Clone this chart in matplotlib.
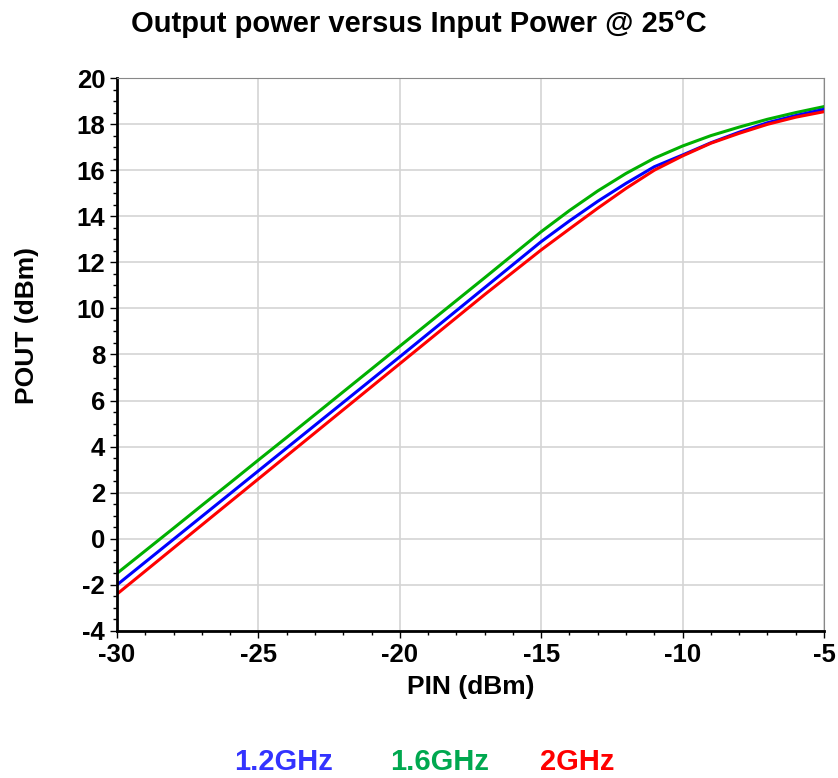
import matplotlib.pyplot as plt
from matplotlib.ticker import MultipleLocator

plt.rcParams['font.family'] = ['Liberation Sans', 'DejaVu Sans']
plt.rcParams['font.weight'] = 'bold'
plt.rcParams['axes.unicode_minus'] = False

pin = [-30, -29, -28, -27, -26, -25, -24, -23, -22, -21, -20, -19, -18,
       -17, -16, -15, -14, -13, -12, -11, -10, -9, -8, -7, -6, -5]

# POUT for each frequency, dBm
pout_12 = [-2.0, -1.01, -0.02, 0.97, 1.96, 2.95, 3.94, 4.93, 5.92, 6.91, 7.9,
           8.9, 9.9, 10.9, 11.9, 12.9, 13.8, 14.65, 15.43, 16.15, 16.66,
           17.19, 17.65, 18.06, 18.37, 18.64]
pout_16 = [-1.5, -0.52, 0.46, 1.45, 2.43, 3.42, 4.4, 5.39, 6.38, 7.37, 8.36,
           9.35, 10.34, 11.33, 12.33, 13.33, 14.25, 15.1, 15.86, 16.52, 17.05,
           17.5, 17.87, 18.21, 18.5, 18.76]
pout_20 = [-2.4, -1.4, -0.4, 0.6, 1.6, 2.6, 3.6, 4.6, 5.6, 6.6, 7.6,
           8.6, 9.6, 10.6, 11.57, 12.54, 13.45, 14.35, 15.21, 16.0, 16.62,
           17.17, 17.6, 17.99, 18.3, 18.54]

labels = ['1.2GHz', '1.6GHz', '2GHz']
line_colors = ['#0000ff', '#00b000', '#ff0000']
text_colors = ['#3333ff', '#00a84f', '#ff0000']

fig = plt.figure(figsize=(8.38, 7.78), dpi=100)
ax = fig.add_axes([0.1396, 0.189, 0.8437, 0.7107])

ax.plot(pin, pout_16, color=line_colors[1], lw=2.2)
ax.plot(pin, pout_12, color=line_colors[0], lw=2.2)
ax.plot(pin, pout_20, color=line_colors[2], lw=2.2)

ax.set_xlim(-30, -5)
ax.set_ylim(-4, 20)
ax.xaxis.set_major_locator(MultipleLocator(5))
ax.xaxis.set_minor_locator(MultipleLocator(1))
ax.yaxis.set_major_locator(MultipleLocator(2))
ax.yaxis.set_minor_locator(MultipleLocator(0.5))
ax.grid(True, which='major', color='#d4d4d4', lw=1.2)
ax.set_axisbelow(True)

ax.spines['left'].set_linewidth(2)
ax.spines['bottom'].set_linewidth(2)
ax.spines['top'].set_color('#888888')
ax.spines['right'].set_color('#888888')
ax.tick_params(which='major', labelsize=18.5, length=5, width=1)
ax.tick_params(which='minor', length=3, width=1)
ax.tick_params(top=False, right=False, which='both')

ax.set_xlabel('PIN (dBm)', fontsize=19, fontweight='bold', labelpad=6)
ax.set_ylabel('POUT (dBm)', fontsize=19, fontweight='bold')
ax.yaxis.set_label_coords(-0.11, 0.553)
fig.text(0.5, 0.969, 'Output power versus Input Power @ 25°C',
         ha='center', va='center', fontsize=21, fontweight='bold')

for lab, c, xpos in zip(labels, text_colors, [0.338, 0.525, 0.689]):
    fig.text(xpos, 0.021, lab, color=c, ha='center', va='center',
             fontsize=21, fontweight='bold')

fig.savefig('out.png', dpi=100)
